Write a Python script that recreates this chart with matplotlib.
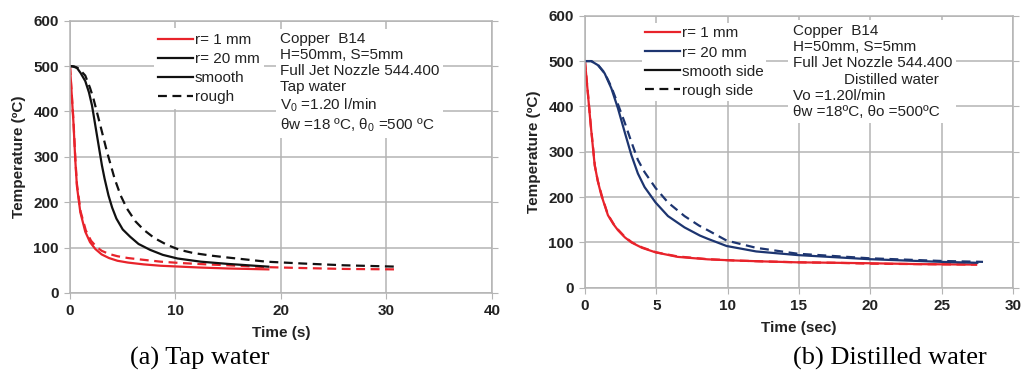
import matplotlib
matplotlib.use('Agg')
from matplotlib import pyplot as plt
from matplotlib.lines import Line2D

plt.rcParams['font.family'] = ['Liberation Sans', 'DejaVu Sans']
plt.rcParams['mathtext.fontset'] = 'custom'
plt.rcParams['mathtext.rm'] = 'Liberation Sans'
plt.rcParams['mathtext.it'] = 'Liberation Sans:italic'

# (a) tap water
ta_r1_smooth = [0, 0.33, 0.51, 0.66, 0.98, 1.45, 1.9, 2.4, 3.0, 3.7, 4.5, 5.5, 7, 8.6, 10.5, 12.4, 15, 18.8]
Ta_r1_smooth = [500, 375, 290, 235, 178, 135, 112, 97, 85, 77, 71, 67, 63, 60, 58, 56, 54, 52]
ta_r1_rough = [0, 0.33, 0.51, 0.66, 1.0, 1.5, 2.0, 2.5, 3.0, 3.7, 4.5, 5.5, 7, 8.6, 10.5, 13, 15, 18.6, 22, 26, 31]
Ta_r1_rough = [500, 380, 295, 240, 180, 138, 115, 102, 93, 86, 81, 77, 73, 69, 66, 63, 61, 57, 55, 53, 52]
ta_r20_smooth = [0, 0.3, 0.66, 1.0, 1.45, 1.8, 2.09, 2.56, 3.03, 3.28, 3.65, 4.0, 4.4, 5.0, 5.7, 6.5, 7.6, 8.8,
                 10.2, 12.4, 15, 18.8]
Ta_r20_smooth = [500, 499, 496, 485, 467, 442, 413, 347, 281, 252, 215, 188, 164, 140, 124, 108, 95, 84,
                 76, 69, 64, 58]
ta_r20_rough = [0, 0.4, 0.82, 1.45, 1.9, 2.24, 2.88, 3.51, 4.23, 4.8, 5.4, 6.2, 7.0, 8.0, 9.2, 10.4, 11.7,
                13.5, 15, 18.6, 22, 26, 31]
Ta_r20_rough = [500, 499, 495, 479, 452, 427, 369, 311, 252, 215, 186, 158, 139, 121, 106, 95, 88,
                82, 78, 69, 65, 61, 58]

# (b) distilled water
tb_r1_smooth = [0, 0.2, 0.4, 0.68, 0.9, 1.15, 1.61, 2.0, 2.31, 2.8, 3.25, 4.0, 4.95, 6.5, 8.6, 10.5, 12.5,
                14.9, 17.5, 19.9, 23.5, 27.4]
Tb_r1_smooth = [500, 430, 360, 271, 235, 204, 160, 140, 127, 111, 100, 88, 78, 68, 62.6, 60, 58,
                56, 55, 54, 52, 51]
tb_r1_rough = [0, 0.2, 0.4, 0.7, 0.9, 1.2, 1.6, 2.0, 2.3, 2.8, 3.3, 4.0, 5.0, 6.5, 8.6, 10.5, 12.5,
               15, 17.5, 20, 23.5, 27.5]
Tb_r1_rough = [500, 432, 362, 268, 236, 201, 162, 141, 129, 112, 100, 89, 78, 69, 63, 60, 58,
               56, 55, 53, 52, 51]
tb_r20_smooth = [0, 0.44, 0.91, 1.38, 1.85, 2.31, 2.78, 3.25, 3.71, 4.18, 4.95, 5.82, 6.98, 8.06, 8.6, 9.93,
                 12, 14.9, 19.9, 25, 27.5]
Tb_r20_smooth = [500, 500, 491, 473, 440, 396, 344, 293, 252, 222, 188, 158, 133, 115, 108, 92,
                 80, 72, 63, 57, 55]
tb_r20_rough = [0, 0.44, 0.91, 1.38, 1.85, 2.31, 2.78, 3.25, 3.71, 4.18, 4.95, 5.82, 6.98, 8.0, 8.6, 9.93,
                12, 14.9, 19.9, 25, 27.9]
Tb_r20_rough = [500, 500, 492, 474, 443, 405, 365, 322, 282, 255, 220, 188, 158, 137, 127, 104,
                88, 75, 65, 59, 57]

red = '#e8232b'
navy = '#1d3570'
black = '#111111'
grid_c = '#b4b4b4'
txt_c = '#222222'
fs = 11

fig = plt.figure(figsize=(10.23, 3.72), dpi=100)
ax1 = fig.add_axes([0.0684, 0.2124, 0.4125, 0.732])
ax2 = fig.add_axes([0.5718, 0.2266, 0.4184, 0.731])


def style(ax, xmax, xstep):
    ax.set_xlim(0, xmax)
    ax.set_ylim(0, 600)
    ax.set_xticks(range(0, xmax + 1, xstep))
    ax.set_yticks(range(0, 601, 100))
    ax.grid(True, color=grid_c, lw=1.1)
    ax.set_axisbelow(True)
    for s in ax.spines.values():
        s.set_color(grid_c)
        s.set_linewidth(1.1)
    ax.tick_params(axis='both', length=4, color=grid_c, labelsize=fs,
                   labelcolor=txt_c, right=True, pad=4)
    for lab in ax.get_xticklabels() + ax.get_yticklabels():
        lab.set_fontweight('bold')


style(ax1, 40, 10)
style(ax2, 30, 5)

dash = (0, (4, 2.5))
ax1.plot(ta_r1_smooth, Ta_r1_smooth, color=red, lw=1.6)
ax1.plot(ta_r1_rough, Ta_r1_rough, color=red, lw=1.6, linestyle=dash)
ax1.plot(ta_r20_smooth, Ta_r20_smooth, color=black, lw=1.6)
ax1.plot(ta_r20_rough, Ta_r20_rough, color=black, lw=1.6, linestyle=dash)

ax2.plot(tb_r1_smooth, Tb_r1_smooth, color=red, lw=1.6)
ax2.plot(tb_r1_rough, Tb_r1_rough, color=red, lw=1.6, linestyle=dash)
ax2.plot(tb_r20_smooth, Tb_r20_smooth, color=navy, lw=1.6)
ax2.plot(tb_r20_rough, Tb_r20_rough, color=navy, lw=1.6, linestyle=dash)

ax1.set_xlabel('Time (s)', fontsize=fs, fontweight='bold', color=txt_c, labelpad=6)
ax1.set_ylabel('Temperature (ºC)', fontsize=fs, fontweight='bold', color=txt_c, labelpad=5)
ax2.set_xlabel('Time (sec)', fontsize=fs, fontweight='bold', color=txt_c, labelpad=6)
ax2.set_ylabel('Temperature (ºC)', fontsize=fs, fontweight='bold', color=txt_c, labelpad=5)

# legends
h1 = [Line2D([], [], color=red, lw=1.6),
      Line2D([], [], color=black, lw=1.6),
      Line2D([], [], color=black, lw=1.6),
      Line2D([], [], color=black, lw=1.6, linestyle=dash)]
leg1 = ax1.legend(h1, ['r= 1 mm', 'r= 20 mm', 'smooth', 'rough'],
                  loc='upper left', bbox_to_anchor=(0.18, 1.0), fontsize=fs,
                  frameon=True, facecolor='white', edgecolor='none', framealpha=1,
                  handlelength=2.3, handletextpad=0.1, labelspacing=0.33,
                  borderpad=0.3, fancybox=False)
for t in leg1.get_texts():
    t.set_color(txt_c)

h2 = [Line2D([], [], color=red, lw=1.6),
      Line2D([], [], color=navy, lw=1.6),
      Line2D([], [], color=black, lw=1.6),
      Line2D([], [], color=black, lw=1.6, linestyle=dash)]
leg2 = ax2.legend(h2, ['r= 1 mm', 'r= 20 mm', 'smooth side', 'rough side'],
                  loc='upper left', bbox_to_anchor=(0.115, 1.0), fontsize=fs,
                  frameon=True, facecolor='white', edgecolor='none', framealpha=1,
                  handlelength=2.3, handletextpad=0.1, labelspacing=0.33,
                  borderpad=0.2, fancybox=False)
for t in leg2.get_texts():
    t.set_color(txt_c)

info1 = ('Copper  B14\nH=50mm, S=5mm\nFull Jet Nozzle 544.400\nTap water\n'
         'V$_0$ =1.20 l/min\nθw =18 ºC, θ$_0$ =500 ºC')
ax1.text(0.497, 0.96, info1, transform=ax1.transAxes, fontsize=fs, color=txt_c,
         va='top', ha='left', linespacing=1.2,
         bbox=dict(facecolor='white', edgecolor='none', pad=3))

info2 = ('Copper  B14\nH=50mm, S=5mm\nFull Jet Nozzle 544.400\n'
         '            Distilled water\nVo =1.20l/min\nθw =18ºC, θo =500ºC')
ax2.text(0.485, 0.97, info2, transform=ax2.transAxes, fontsize=fs, color=txt_c,
         va='top', ha='left', linespacing=1.2,
         bbox=dict(facecolor='white', edgecolor='none', pad=3))

fig.text(200 / 1023, 0.037, '(a) Tap water', family='Liberation Serif', fontsize=19,
         ha='center', va='center', color='black')
fig.text(890 / 1023, 0.037, '(b) Distilled water', family='Liberation Serif', fontsize=19,
         ha='center', va='center', color='black')

fig.savefig('out.png', dpi=100)
